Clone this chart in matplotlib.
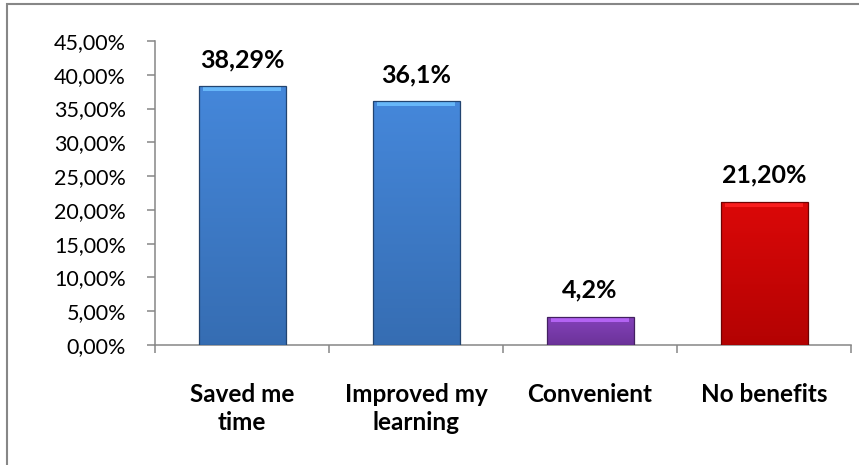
import numpy as np
import matplotlib.pyplot as plt
from matplotlib.colors import to_rgb
from matplotlib.patches import Rectangle
from matplotlib.ticker import FuncFormatter

# datos del grafico
categories = ['Saved me\ntime', 'Improved my\nlearning', 'Convenient', 'No benefits']
values = [38.29, 36.1, 4.2, 21.20]
value_labels = ['38,29%', '36,1%', '4,2%', '21,20%']
bar_colors = ['#3D7CCB', '#3D7CCB', '#7A3AAE', '#CC0303']
y_ticks = [0, 5, 10, 15, 20, 25, 30, 35, 40, 45]

plt.rcParams['font.family'] = ['Lato', 'DejaVu Sans']

fig = plt.figure(figsize=(8.59, 4.65), dpi=100)
ax = fig.add_axes([155 / 859, 1 - 345 / 465, (851 - 155) / 859, (345 - 41) / 465])

x = np.arange(len(categories))
bars = ax.bar(x, values, width=0.5, color=bar_colors, linewidth=0, zorder=3)

# degradado vertical encima de cada barra (efecto bisel de Excel)
grad = np.linspace(0, 1, 256).reshape(-1, 1)
for b, c in zip(bars, bar_colors):
    base = np.array(to_rgb(c))
    x0, y0 = b.get_x(), b.get_y()
    w, h = b.get_width(), b.get_height()
    top = np.clip(base * 1.05 + 0.02, 0, 1)
    bot = base * 0.88
    img = bot[None, None, :] * (1 - grad[..., None]) + top[None, None, :] * grad[..., None]
    im = ax.imshow(img, extent=[x0, x0 + w, y0, y0 + h], origin='lower',
                   aspect='auto', zorder=3.5, interpolation='bilinear')
    im.set_clip_path(b)
    # borde claro arriba
    ax.add_patch(Rectangle((x0 + w * 0.05, y0 + h - 0.75), w * 0.9, 0.6,
                           color=np.clip(base * 1.3 + 0.12, 0, 1), lw=0, zorder=3.6, alpha=0.85))
    ax.add_patch(Rectangle((x0, y0), w, h, fill=False, edgecolor=base * 0.55, lw=0.9, zorder=3.7))

for xi, v, lab in zip(x, values, value_labels):
    ax.text(xi, v + 2.8, lab, ha='center', va='baseline', fontsize=18, fontweight='bold', color='black')

ax.set_xlim(-0.5, 3.5)
ax.set_ylim(0, 45)
ax.set_yticks(y_ticks)
ax.yaxis.set_major_formatter(FuncFormatter(lambda v, p: f'{v:.2f}'.replace('.', ',') + '%'))
ax.tick_params(axis='y', labelsize=15.5, length=6, width=1.1, color='#868686', pad=15)

ax.set_xticks(x)
ax.set_xticklabels(categories, fontsize=17.5, fontweight='bold', linespacing=1.3)
ax.set_xticks(np.arange(-0.5, 4, 1), minor=True)
ax.tick_params(axis='x', which='major', length=0, pad=27)
ax.tick_params(axis='x', which='minor', length=6, width=1.1, color='#868686')

for s in ['top', 'right']:
    ax.spines[s].set_visible(False)
for s in ['left', 'bottom']:
    ax.spines[s].set_color('#868686')
    ax.spines[s].set_linewidth(1.1)

# marco exterior (solo se ven arriba e izquierda)
fig.patches.append(Rectangle((6.5 / 859, -0.05), 1.0, 1 - 4.5 / 465 + 0.05, transform=fig.transFigure,
                             fill=False, edgecolor='#878787', lw=1.5, clip_on=False))

fig.savefig('out.png', dpi=100)
